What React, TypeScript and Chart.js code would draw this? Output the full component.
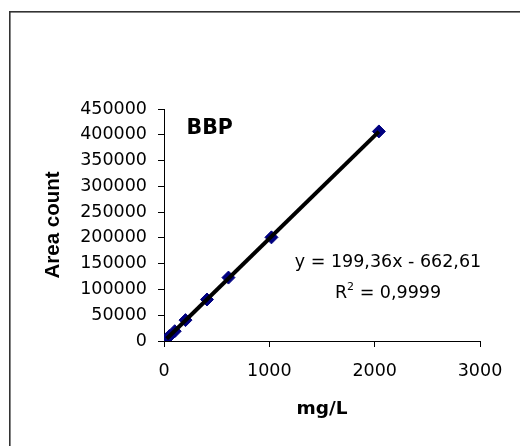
import React, { useEffect, useRef } from "react";
import { Chart, registerables } from "chart.js";

Chart.register(...registerables);

// ---- data ----
const concentrations = [25.5, 51, 102, 204, 408, 612, 1020, 2040];
const areaCounts = [4500, 9500, 19000, 40500, 80500, 123000, 201000, 406500];
const xTickValues = [0, 1000, 2000, 3000];
const yTickValues = [0, 50000, 100000, 150000, 200000, 250000, 300000, 350000, 400000, 450000];
const trendSlope = 199.36;
const trendIntercept = -662.61;
const seriesTitle = "BBP";
const equationText = "y = 199,36x - 662,61";
const rSquaredLabel = "R";
const rSquaredSup = "2";
const rSquaredValue = " = 0,9999";
const xAxisTitle = "mg/L";
const yAxisTitle = "Area count";

const TICK_FONT = "DejaVu Sans";

const annotationPlugin = {
  id: "annotations",
  afterDraw(chart: any) {
    const { ctx, chartArea } = chart;
    ctx.save();
    // outer frame
    ctx.strokeStyle = "#333333";
    ctx.lineWidth = 1.6;
    ctx.strokeRect(9.8, 11.8, 700, 700);

    // series title
    ctx.fillStyle = "#000";
    ctx.textAlign = "left";
    ctx.textBaseline = "alphabetic";
    ctx.font = `bold 20.5px '${TICK_FONT}'`;
    ctx.fillText(seriesTitle, chartArea.left + 22.5, chartArea.top + 24.5);

    // equation
    const cx = 388;
    ctx.font = `17.5px '${TICK_FONT}'`;
    ctx.textAlign = "center";
    ctx.fillText(equationText, cx, chartArea.top + 157.5);

    // R^2 line
    ctx.textAlign = "left";
    ctx.font = `17.5px '${TICK_FONT}'`;
    const wR = ctx.measureText(rSquaredLabel).width;
    const wV = ctx.measureText(rSquaredValue).width;
    ctx.font = `11px '${TICK_FONT}'`;
    const wS = ctx.measureText(rSquaredSup).width;
    const total = wR + wS + wV;
    let x = cx - total / 2;
    const base = chartArea.top + 188.5;
    ctx.font = `17.5px '${TICK_FONT}'`;
    ctx.fillText(rSquaredLabel, x, base);
    x += wR;
    ctx.font = `11px '${TICK_FONT}'`;
    ctx.fillText(rSquaredSup, x, base - 8);
    x += wS;
    ctx.font = `17.5px '${TICK_FONT}'`;
    ctx.fillText(rSquaredValue, x, base);
    ctx.restore();
  },
};

export default function App() {
  const canvasRef = useRef<HTMLCanvasElement | null>(null);

  useEffect(() => {
    if (!canvasRef.current) return;
    const points = concentrations.map((c, i) => ({ x: c, y: areaCounts[i] }));
    const xMin = concentrations[0];
    const xMax = concentrations[concentrations.length - 1];
    const trend = [
      { x: xMin, y: trendSlope * xMin + trendIntercept },
      { x: xMax, y: trendSlope * xMax + trendIntercept },
    ];

    const chart = new Chart(canvasRef.current, {
      type: "scatter",
      data: {
        datasets: [
          {
            label: "trend",
            data: trend,
            showLine: true,
            borderColor: "#000000",
            borderWidth: 4,
            pointRadius: 0,
            order: 0,
          },
          {
            label: seriesTitle,
            data: points,
            pointStyle: "rectRot",
            pointRadius: 6.5,
            pointBackgroundColor: "#000080",
            pointBorderColor: "#000080",
            pointBorderWidth: 1,
            order: 1,
          },
        ],
      },
      options: {
        responsive: false,
        animation: false,
        devicePixelRatio: 1,
        layout: { padding: { left: 0, top: 109, right: 40, bottom: 0 } },
        plugins: {
          legend: { display: false },
          tooltip: { enabled: false },
        },
        scales: {
          x: {
            type: "linear",
            position: "bottom",
            min: xTickValues[0],
            max: xTickValues[xTickValues.length - 1],
            afterBuildTicks: (scale: any) => {
              scale.ticks = xTickValues.map((v) => ({ value: v }));
            },
            afterFit: (scale: any) => {
              scale.height = 105;
            },
            ticks: {
              autoSkip: false,
              maxRotation: 0,
              padding: 14,
              color: "#000",
              font: { family: TICK_FONT, size: 17.5 },
              callback: (v: any) => String(v),
            },
            grid: {
              drawOnChartArea: false,
              drawTicks: true,
              tickLength: 6,
              color: "#000",
              lineWidth: 1,
            },
            border: { display: true, color: "#000", width: 1 },
            title: {
              display: true,
              text: xAxisTitle,
              color: "#000",
              font: { family: TICK_FONT, size: 18.5, weight: "bold" },
              padding: { top: 0, bottom: 26 },
            },
          },
          y: {
            type: "linear",
            min: yTickValues[0],
            max: yTickValues[yTickValues.length - 1],
            afterBuildTicks: (scale: any) => {
              scale.ticks = yTickValues.map((v) => ({ value: v }));
            },
            afterFit: (scale: any) => {
              scale.width = 164;
            },
            ticks: {
              autoSkip: false,
              padding: 11,
              color: "#000",
              font: { family: TICK_FONT, size: 17.5 },
              callback: (v: any) => String(v),
            },
            grid: {
              drawOnChartArea: false,
              drawTicks: true,
              tickLength: 6,
              color: "#000",
              lineWidth: 1,
            },
            border: { display: true, color: "#000", width: 1 },
            title: {
              display: true,
              text: yAxisTitle,
              color: "#000",
              font: { family: "Liberation Sans", size: 20.5, weight: "bold" },
              padding: { top: 41, bottom: 0 },
            },
          },
        },
      },
      plugins: [annotationPlugin],
    } as any);

    return () => chart.destroy();
  }, []);

  return (
    <div style={{ position: "absolute", left: 0, top: 0, width: 520, height: 446, background: "#fff" }}>
      <canvas ref={canvasRef} width={520} height={446} style={{ display: "block" }} />
    </div>
  );
}
